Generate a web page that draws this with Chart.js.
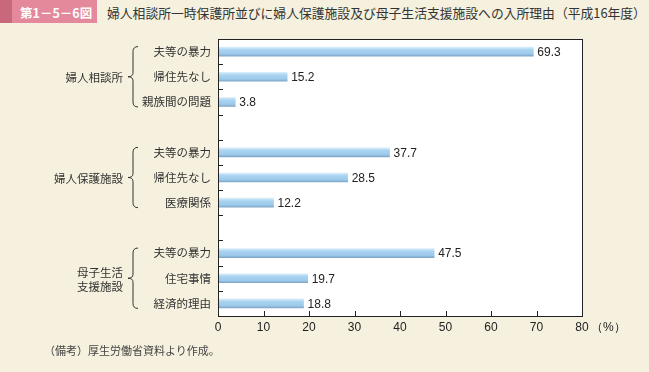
<!DOCTYPE html>
<html lang="ja">
<head>
<meta charset="utf-8">
<script src="https://cdn.jsdelivr.net/npm/chart.js@4.4.1/dist/chart.umd.min.js"></script>
<style>
  body { margin: 0; background: #f5f1de; }
  #wrap { position: relative; width: 649px; height: 372px; overflow: hidden; background: #f5f1de; }
  #badge { position: absolute; left: 0; top: 0; width: 97px; height: 23px; background: #e3899b; }
  #badge::before { content: ''; position: absolute; left: 0; top: 0; width: 12px; height: 23px; background: #c9677b; }
  #badge span { position: absolute; left: 20px; top: 3px; color: #fff; font: bold 12.5px "Noto Sans CJK JP", sans-serif; white-space: nowrap; }
  #title { position: absolute; left: 107px; top: 3px; color: #333; font: 12.8px "Noto Sans CJK JP", sans-serif; white-space: nowrap; }
  #note { position: absolute; left: 44px; top: 342px; color: #444; font: 11px "Noto Sans CJK JP", serif; white-space: nowrap; }
  canvas { position: absolute; left: 0; top: 0; }
</style>
</head>
<body>
<div id="wrap">
  <div id="badge"><span>第1－5－6図</span></div>
  <div id="title">婦人相談所一時保護所並びに婦人保護施設及び母子生活支援施設への入所理由（平成16年度）</div>
  <canvas id="grafico" width="649" height="372"></canvas>
  <div id="note">（備考）厚生労働省資料より作成。</div>
</div>
<script>
// dados
const grupos = ['婦人相談所', '婦人保護施設', ['母子生活', '支援施設']];
const motivos = [
  ['夫等の暴力', '帰住先なし', '親族間の問題'],
  ['夫等の暴力', '帰住先なし', '医療関係'],
  ['夫等の暴力', '住宅事情', '経済的理由']
];
const valores = [
  [69.3, 15.2, 3.8],
  [37.7, 28.5, 12.2],
  [47.5, 19.7, 18.8]
];
const xMax = 80;
const xPasso = 10;

// monta as categorias com uma linha vazia entre grupos
const rotulos = [];
const dados = [];
const faixas = [];
motivos.forEach((lista, g) => {
  if (g > 0) { rotulos.push(''); dados.push(null); }
  const ini = rotulos.length;
  lista.forEach((m, i) => { rotulos.push(m); dados.push(valores[g][i]); });
  faixas.push([ini, rotulos.length - 1]);
});

const fonteJP = '"Noto Sans CJK JP", sans-serif';
const fonteNum = '"Liberation Sans", Arial, sans-serif';

const fundoArea = {
  id: 'fundoArea',
  beforeDraw(chart) {
    const { ctx, chartArea: a } = chart;
    ctx.save();
    ctx.fillStyle = '#ffffff';
    ctx.fillRect(a.left, a.top, a.right - a.left, a.bottom - a.top);
    ctx.restore();
  }
};

const extras = {
  id: 'extras',
  afterDraw(chart) {
    const { ctx, chartArea: a } = chart;
    const x = chart.scales.x, y = chart.scales.y;
    ctx.save();
    // moldura
    ctx.strokeStyle = '#222';
    ctx.lineWidth = 1;
    ctx.strokeRect(Math.round(a.left) + 0.5, Math.round(a.top) + 0.5, Math.round(a.right - a.left), Math.round(a.bottom - a.top));
    // marcas internas do eixo y
    ctx.beginPath();
    for (let i = 1; i < rotulos.length; i++) {
      const py = Math.round((y.getPixelForValue(i - 1) + y.getPixelForValue(i)) / 2) + 0.5;
      ctx.moveTo(a.left, py);
      ctx.lineTo(a.left + 5, py);
    }
    // marcas internas do eixo x
    for (let v = xPasso; v < xMax; v += xPasso) {
      const px = Math.round(x.getPixelForValue(v)) + 0.5;
      ctx.moveTo(px, a.bottom);
      ctx.lineTo(px, a.bottom - 5);
    }
    ctx.stroke();
    // valores ao lado das barras
    const meta = chart.getDatasetMeta(0);
    ctx.fillStyle = '#222';
    ctx.font = '12px ' + fonteNum;
    ctx.textAlign = 'left';
    ctx.textBaseline = 'middle';
    meta.data.forEach((bar, i) => {
      if (dados[i] == null) return;
      ctx.fillText(dados[i].toFixed(1), bar.x + 4, bar.y + 1);
    });
    // unidade
    ctx.fillText('（%）', x.getPixelForValue(xMax) + 9, a.bottom + 12);
    // chaves e nomes dos grupos
    ctx.strokeStyle = '#333';
    ctx.fillStyle = '#333';
    ctx.font = '11.5px ' + fonteJP;
    ctx.textAlign = 'right';
    faixas.forEach(([i0, i1], g) => {
      const t = y.getPixelForValue(i0) - 5;
      const b = y.getPixelForValue(i1) + 5;
      const m = (t + b) / 2;
      const xr = 138, xs = 133, xt = 128;
      ctx.beginPath();
      ctx.moveTo(xr, t);
      ctx.quadraticCurveTo(xs, t, xs, t + 5);
      ctx.lineTo(xs, m - 4);
      ctx.quadraticCurveTo(xs, m, xt, m);
      ctx.quadraticCurveTo(xs, m, xs, m + 4);
      ctx.lineTo(xs, b - 5);
      ctx.quadraticCurveTo(xs, b, xr, b);
      ctx.stroke();
      const nome = grupos[g];
      if (Array.isArray(nome)) {
        ctx.fillText(nome[0], 123, m - 6);
        ctx.fillText(nome[1], 123, m + 8);
      } else {
        ctx.fillText(nome, 123, m + 1);
      }
    });
    ctx.restore();
  }
};

new Chart(document.getElementById('grafico'), {
  type: 'bar',
  data: {
    labels: rotulos,
    datasets: [{
      data: dados,
      barThickness: 9,
      backgroundColor: (c) => {
        const chart = c.chart;
        if (!chart.chartArea || !chart.scales.y) return '#a4cdee';
        const yc = chart.scales.y.getPixelForValue(c.dataIndex);
        const gr = chart.ctx.createLinearGradient(0, yc - 4.5, 0, yc + 4.5);
        gr.addColorStop(0, '#d9edfa');
        gr.addColorStop(0.3, '#a9d3f1');
        gr.addColorStop(0.75, '#9dc9eb');
        gr.addColorStop(1, '#7fa7c6');
        return gr;
      },
      borderWidth: 0
    }]
  },
  options: {
    indexAxis: 'y',
    responsive: false,
    animation: false,
    events: [],
    layout: { padding: { top: 39, right: 67, left: 0, bottom: 0 } },
    plugins: { legend: { display: false }, tooltip: { enabled: false } },
    scales: {
      x: {
        min: 0,
        max: xMax,
        ticks: { stepSize: xPasso, color: '#222', font: { size: 12, family: fonteNum }, padding: 4 },
        grid: { display: false, drawTicks: false },
        border: { display: false },
        afterFit: (s) => { s.height = 56; }
      },
      y: {
        ticks: { color: '#333', font: { size: 11.5, family: fonteJP }, padding: 7, autoSkip: false },
        grid: { display: false, drawTicks: false },
        border: { display: false },
        afterFit: (s) => { s.width = 218; }
      }
    }
  },
  plugins: [fundoArea, extras]
});
</script>
</body>
</html>
